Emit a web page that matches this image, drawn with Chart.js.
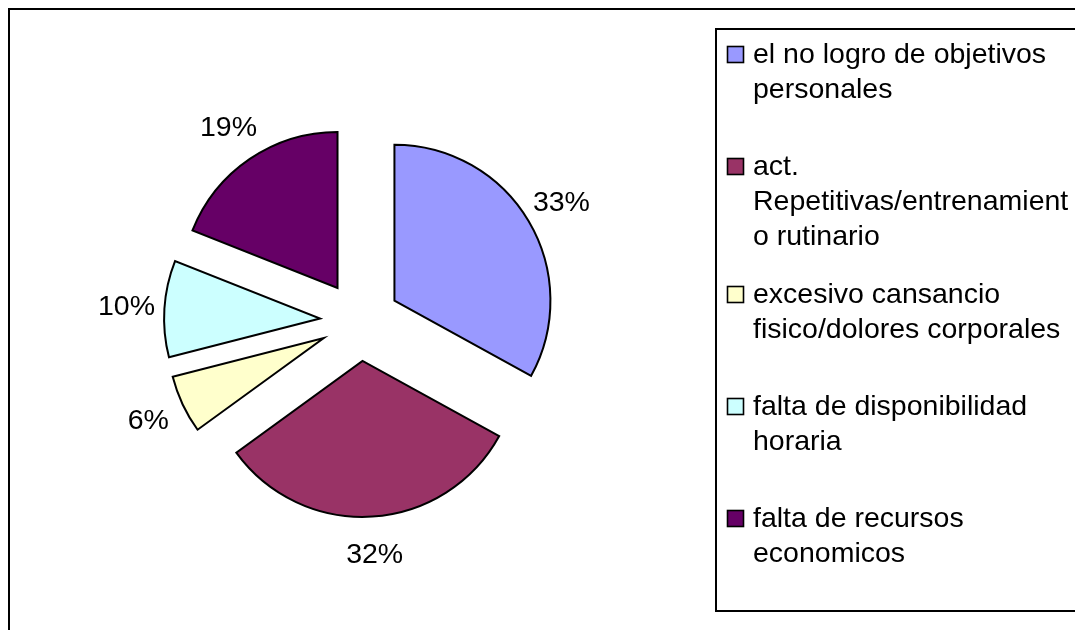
<!DOCTYPE html>
<html>
<head>
<meta charset="utf-8">
<script src="https://cdn.jsdelivr.net/npm/chart.js@4"></script>
<style>
  html, body { margin: 0; padding: 0; background: #fff; overflow: hidden; }
</style>
</head>
<body>
<canvas id="pieChart" width="1075" height="630"></canvas>
<script>
const categories = [
  'el no logro de objetivos personales',
  'act. Repetitivas/entrenamiento rutinario',
  'excesivo cansancio fisico/dolores corporales',
  'falta de disponibilidad horaria',
  'falta de recursos economicos'
];
const values = [33, 32, 6, 10, 19];
const sliceColors = ['#9999FF', '#993366', '#FFFFCC', '#CCFFFF', '#660066'];
const percentLabels = values.map(v => v + '%');

const FONT = '"Liberation Sans", Arial, sans-serif';
const EXPLODE = 40;

// word wrap, breaking a word by characters when it is too long on its own
function wrapText(ctx, text, maxWidth) {
  const lines = [];
  let line = '';
  text.split(' ').forEach(word => {
    const test = line ? line + ' ' + word : word;
    if (ctx.measureText(test).width <= maxWidth) {
      line = test;
      return;
    }
    if (line) lines.push(line);
    line = '';
    for (const ch of word) {
      if (ctx.measureText(line + ch).width > maxWidth) {
        lines.push(line);
        line = ch;
      } else {
        line += ch;
      }
    }
  });
  if (line) lines.push(line);
  return lines;
}

// draw each slice pulled out along its bisector
const explodePlugin = {
  id: 'explode',
  beforeDatasetDraw(chart, args) {
    const ctx = chart.ctx;
    args.meta.data.forEach(arc => {
      const mid = (arc.startAngle + arc.endAngle) / 2;
      ctx.save();
      ctx.translate(Math.cos(mid) * EXPLODE, Math.sin(mid) * EXPLODE);
      arc.draw(ctx);
      ctx.restore();
    });
    return false;
  }
};

const arcLabelPlugin = {
  id: 'arcLabels',
  afterDatasetsDraw(chart) {
    const ctx = chart.ctx;
    const meta = chart.getDatasetMeta(0);
    ctx.save();
    ctx.font = '28.5px ' + FONT;
    ctx.fillStyle = '#000';
    ctx.textAlign = 'center';
    ctx.textBaseline = 'middle';
    meta.data.forEach((arc, i) => {
      const mid = (arc.startAngle + arc.endAngle) / 2;
      const d = EXPLODE + arc.outerRadius + 38;
      ctx.fillText(percentLabels[i], arc.x + Math.cos(mid) * d, arc.y + Math.sin(mid) * d + 1);
    });
    ctx.restore();
  }
};

const boxLegendPlugin = {
  id: 'boxLegend',
  afterDraw(chart) {
    const ctx = chart.ctx;
    const colors = chart.data.datasets[0].backgroundColor;
    ctx.save();
    ctx.strokeStyle = '#000';
    // chart frame
    ctx.lineWidth = 2;
    ctx.strokeRect(9, 9, 1200, 800);
    // legend box
    ctx.lineWidth = 2;
    ctx.strokeRect(716, 29, 600, 582);

    ctx.font = '28.5px ' + FONT;
    ctx.textAlign = 'left';
    ctx.textBaseline = 'alphabetic';
    let baseline = 63;
    chart.data.labels.forEach((label, i) => {
      const lines = wrapText(ctx, label, 320);
      ctx.fillStyle = colors[i];
      ctx.fillRect(727.5, baseline - 16.5, 16, 16);
      ctx.lineWidth = 1.6;
      ctx.strokeRect(727.5, baseline - 16.5, 16, 16);
      ctx.fillStyle = '#000';
      lines.forEach((ln, j) => ctx.fillText(ln, 753, baseline + j * 35));
      baseline += 16 * (lines.length + 5);
    });
    ctx.restore();
  }
};

new Chart(document.getElementById('pieChart'), {
  type: 'pie',
  data: {
    labels: categories,
    datasets: [{
      data: values,
      backgroundColor: sliceColors,
      borderColor: '#000',
      borderWidth: 2,
      borderJoinStyle: 'miter'
    }]
  },
  options: {
    responsive: false,
    animation: false,
    radius: 156,
    layout: { padding: { left: 10, right: 365, top: 12, bottom: 0 } },
    plugins: {
      legend: { display: false },
      tooltip: { enabled: false }
    }
  },
  plugins: [explodePlugin, arcLabelPlugin, boxLegendPlugin]
});
</script>
</body>
</html>
